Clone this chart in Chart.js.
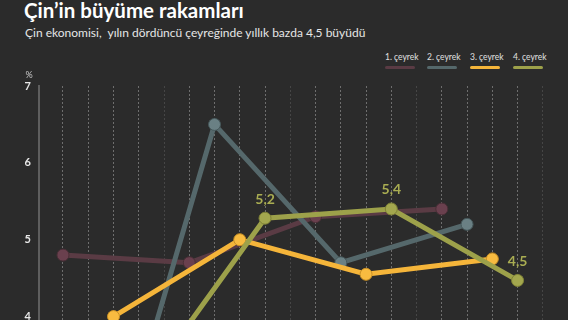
<!DOCTYPE html>
<html>
<head>
<meta charset="utf-8">
<script src="https://cdn.jsdelivr.net/npm/chart.js@4"></script>
<style>
  html, body { margin:0; padding:0; background:#2b2b2b; width:568px; height:320px; overflow:hidden; }
  #wrap { position:relative; width:568px; height:320px; overflow:hidden; background:#2b2b2b; }
  #title { position:absolute; left:24px; top:-2px; font-family:Lato, sans-serif; font-weight:700; font-size:20.5px; color:#ffffff; white-space:pre; }
  #subtitle { position:absolute; left:25px; top:25px; font-family:Lato, sans-serif; font-size:12px; color:#e6e6e6; white-space:pre; }
  .lg { position:absolute; top:52px; font-family:Lato, sans-serif; font-size:8.5px; color:#e0e0e0; white-space:pre; }
  .sw { position:absolute; top:66px; width:30px; height:3px; border-radius:2px; }
  canvas { position:absolute; left:0; top:0; }
</style>
</head>
<body>
<div id="wrap">
  <div id="title">Çin’in büyüme rakamları</div>
  <div id="subtitle">Çin ekonomisi,  yılın dördüncü çeyreğinde yıllık bazda 4,5 büyüdü</div>
  <div id="legend"></div>
  <canvas id="c" width="568" height="408" style="width:568px;height:408px"></canvas>
</div>
<script>
// ---- data ----
const years = ['2022', '2023', '2024', '2025'];
const seriesNames = ['1. çeyrek', '2. çeyrek', '3. çeyrek', '4. çeyrek'];
const q1 = [4.8, 4.7, 5.3, 5.4];
const q2 = [0.9, 6.5, 4.7, 5.2];
const q3 = [4.0, 5.0, 4.55, 4.75];
const q4 = [3.0, 5.28, 5.4, 4.47];
const q4Labels = ['', '5,2', '5,4', '4,5'];
const yTicks = [4, 5, 6, 7];

// ---- style ----
const lineColors = ['#5a3b44', '#55686b', '#f5b53a', '#9da14a'];
const pointColors = ['#6a404e', '#6a8084', '#f8bb40', '#a3a74e'];
const pointBorders = ['#4a2f37', '#45575a', '#c99025', '#7f8236'];
const slotsPerYear = 5; // 4 quarters + a gap slot

function toPoints(arr, qi) {
  return arr.map((v, yi) => ({ x: yi * slotsPerYear + qi, y: v }));
}
const allSeries = [q1, q2, q3, q4];

// legend
const legend = document.getElementById('legend');
const legendX = [385, 427, 470, 513];
seriesNames.forEach((n, i) => {
  const t = document.createElement('div');
  t.className = 'lg'; t.textContent = n; t.style.left = legendX[i] + 'px';
  legend.appendChild(t);
  const s = document.createElement('div');
  s.className = 'sw'; s.style.left = legendX[i] + 'px'; s.style.background = lineColors[i];
  legend.appendChild(s);
});

const labelPlugin = {
  id: 'labels',
  afterDatasetsDraw(chart) {
    const ctx = chart.ctx;
    const meta = chart.getDatasetMeta(3);
    ctx.save();
    ctx.font = '700 14px Lato, sans-serif';
    ctx.fillStyle = '#a9ad52';
    ctx.textAlign = 'center';
    ctx.textBaseline = 'middle';
    meta.data.forEach((p, i) => {
      if (q4Labels[i]) ctx.fillText(q4Labels[i], p.x, p.y - 19);
    });
    // % unit
    const ys = chart.scales.y;
    ctx.font = '9px Lato, sans-serif';
    ctx.fillStyle = '#cccccc';
    ctx.fillText('%', 29, ys.top - 11);
    ctx.restore();
  }
};

const datasets = allSeries.map((arr, i) => ({
  label: seriesNames[i],
  data: toPoints(arr, i),
  borderColor: lineColors[i],
  backgroundColor: pointColors[i],
  pointBackgroundColor: pointColors[i],
  pointBorderColor: pointBorders[i],
  pointBorderWidth: 1,
  pointRadius: 6,
  borderWidth: 5,
  tension: 0,
  order: 4 - i
}));

new Chart(document.getElementById('c'), {
  type: 'line',
  data: { datasets },
  options: {
    responsive: false,
    animation: false,
    layout: { padding: { left: 0, top: 86, right: 8, bottom: 4 } },
    plugins: { legend: { display: false }, tooltip: { enabled: false } },
    scales: {
      x: {
        type: 'linear',
        min: -0.95,
        max: 19.68,
        afterFit(s) { s.height = 0; },
        ticks: { display: false, stepSize: 1, includeBounds: false },
        grid: {
          drawTicks: false,
          lineWidth: 1,
          color: c => (c.tick && (Math.round(c.tick.value) % slotsPerYear === 4)) ? 'rgba(120,120,120,0.35)' : 'rgba(140,140,140,0.7)'
        },
        border: { display: false, dash: [2, 2] }
      },
      y: {
        min: 3,
        max: 7,
        afterFit(s) { s.width = 39; },
        afterBuildTicks(s) { s.ticks = yTicks.map(v => ({ value: v })); },
        ticks: { color: '#e8e8e8', font: { family: 'Lato, sans-serif', size: 11, weight: 'bold' }, padding: 8 },
        grid: { drawTicks: false, color: 'transparent' },
        border: { display: true, color: '#5e5e5e', width: 2 }
      }
    }
  },
  plugins: [labelPlugin]
});
</script>
</body>
</html>
